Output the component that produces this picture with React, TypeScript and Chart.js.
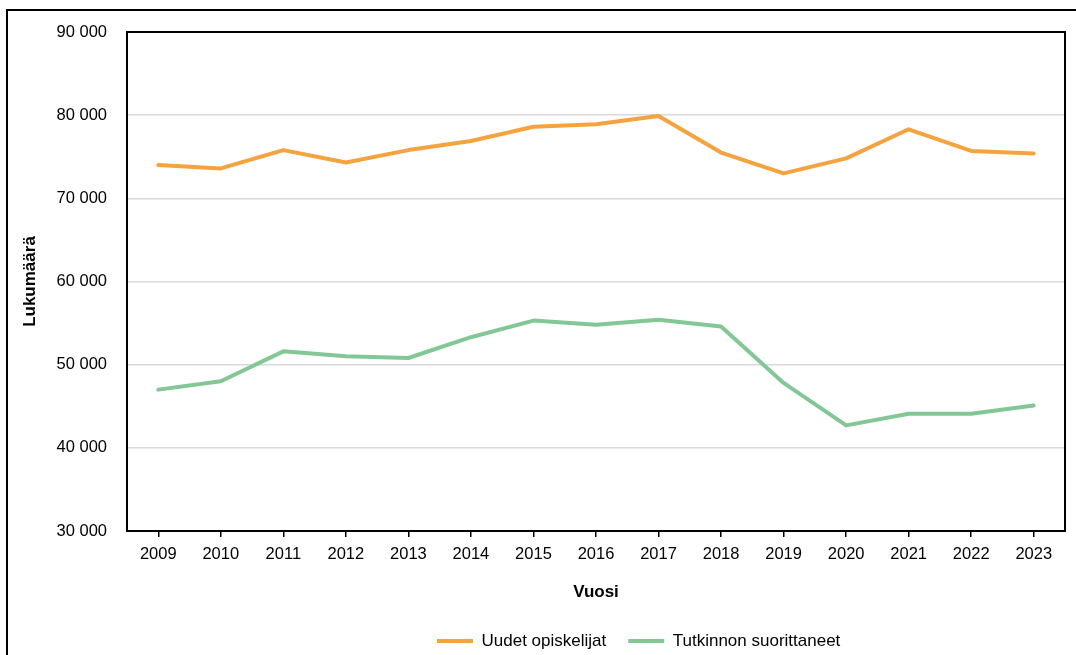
import React, { useEffect, useRef } from "react";
import { Chart, registerables } from "chart.js";

Chart.register(...registerables);

const years = ["2009", "2010", "2011", "2012", "2013", "2014", "2015", "2016", "2017", "2018", "2019", "2020", "2021", "2022", "2023"];
const uudetOpiskelijat = [74000, 73600, 75800, 74300, 75800, 76900, 78600, 78900, 79900, 75500, 73000, 74800, 78300, 75700, 75400];
const tutkinnonSuorittaneet = [47000, 48000, 51600, 51000, 50800, 53300, 55300, 54800, 55400, 54600, 47800, 42700, 44100, 44100, 45100];
const seriesNames = ["Uudet opiskelijat", "Tutkinnon suorittaneet"];
const yMin = 30000;
const yMax = 90000;
const yStep = 10000;
const xTitle = "Vuosi";
const yTitle = "Lukumäärä";

const FONT = "'Liberation Sans', Arial, sans-serif";
const LEGEND_PAD = 22;
const LEGEND_FONT = 17;

export default function App() {
  const ref = useRef<HTMLCanvasElement>(null);
  useEffect(() => {
    if (!ref.current) return;
    const legendShift = {
      id: "legendShift",
      afterLayout(chart: any) {
        const lg = chart.legend;
        if (!lg) return;
        const w = lg.right - lg.left;
        lg.left = 429 - LEGEND_PAD;
        lg.right = lg.left + w;
        const h = lg.bottom - lg.top;
        lg.top = 630 - LEGEND_PAD - LEGEND_FONT / 2;
        lg.bottom = lg.top + h;
      },
    };
    const chart = new Chart(ref.current, {
      type: "line",
      data: {
        labels: years,
        datasets: [
          {
            label: seriesNames[0],
            data: uudetOpiskelijat,
            borderColor: "#F4A33F",
            backgroundColor: "#F4A33F",
            borderWidth: 4,
            pointRadius: 0,
            tension: 0,
            borderCapStyle: "round",
            borderJoinStyle: "round",
          },
          {
            label: seriesNames[1],
            data: tutkinnonSuorittaneet,
            borderColor: "#83C796",
            backgroundColor: "#83C796",
            borderWidth: 4,
            pointRadius: 0,
            tension: 0,
            borderCapStyle: "round",
            borderJoinStyle: "round",
          },
        ],
      },
      options: {
        animation: false,
        responsive: false,
        devicePixelRatio: 1,
        layout: { padding: { left: 0, top: 21, right: 23, bottom: 19.4 } },
        plugins: {
          legend: {
            position: "bottom",
            align: "start",
            labels: {
              usePointStyle: true,
              pointStyle: "line",
              pointStyleWidth: 36,
              padding: LEGEND_PAD,
              color: "#000",
              font: { family: FONT, size: LEGEND_FONT },
            },
          },
          tooltip: { enabled: false },
        },
        scales: {
          x: {
            offset: true,
            grid: {
              offset: false,
              drawOnChartArea: false,
              drawTicks: true,
              tickLength: 6,
              color: "#000",
              lineWidth: 1.5,
            },
            border: { display: true, color: "#000", width: 2 },
            ticks: {
              padding: 8,
              color: "#000",
              font: { family: FONT, size: 16.5 },
              maxRotation: 0,
              autoSkip: false,
            },
            title: {
              display: true,
              text: xTitle,
              color: "#000",
              font: { family: FONT, size: 17, weight: "bold" },
              padding: { top: 0, bottom: 0 },
            },
            afterFit(scale: any) {
              scale.height = 71.6;
            },
          },
          y: {
            min: yMin,
            max: yMax,
            grid: {
              color: "#D9D9D9",
              lineWidth: 1.5,
              drawTicks: false,
            },
            border: { display: true, color: "#000", width: 2 },
            ticks: {
              stepSize: yStep,
              padding: 20,
              color: "#000",
              font: { family: FONT, size: 16.5 },
              callback: (v: any) => {
                const n = Number(v);
                return String(Math.floor(n / 1000)) + " " + String(n % 1000).padStart(3, "0");
              },
            },
            title: {
              display: true,
              text: yTitle,
              color: "#000",
              font: { family: FONT, size: 17, weight: "bold" },
              padding: { top: 12, bottom: 0 },
            },
            afterFit(scale: any) {
              scale.width = 119;
              scale.paddingTop = 10;
              scale.paddingBottom = 10;
            },
          },
        },
      },
      plugins: [
        legendShift,
        {
          id: "frameBox",
          afterDraw(chart: any) {
            const { ctx, chartArea } = chart;
            ctx.save();
            ctx.strokeStyle = "#000";
            ctx.lineWidth = 2;
            ctx.strokeRect(chartArea.left, chartArea.top, chartArea.right - chartArea.left, chartArea.bottom - chartArea.top);
            ctx.restore();
          },
        },
      ],
    });
    return () => chart.destroy();
  }, []);

  return (
    <div
      style={{
        position: "fixed",
        left: 6,
        top: 9,
        width: 1095,
        height: 680,
        border: "2px solid #000",
        background: "#fff",
      }}
    >
      <canvas ref={ref} width={1080} height={660} style={{ position: "absolute", left: 0, top: 0, width: 1080, height: 660 }} />
    </div>
  );
}
